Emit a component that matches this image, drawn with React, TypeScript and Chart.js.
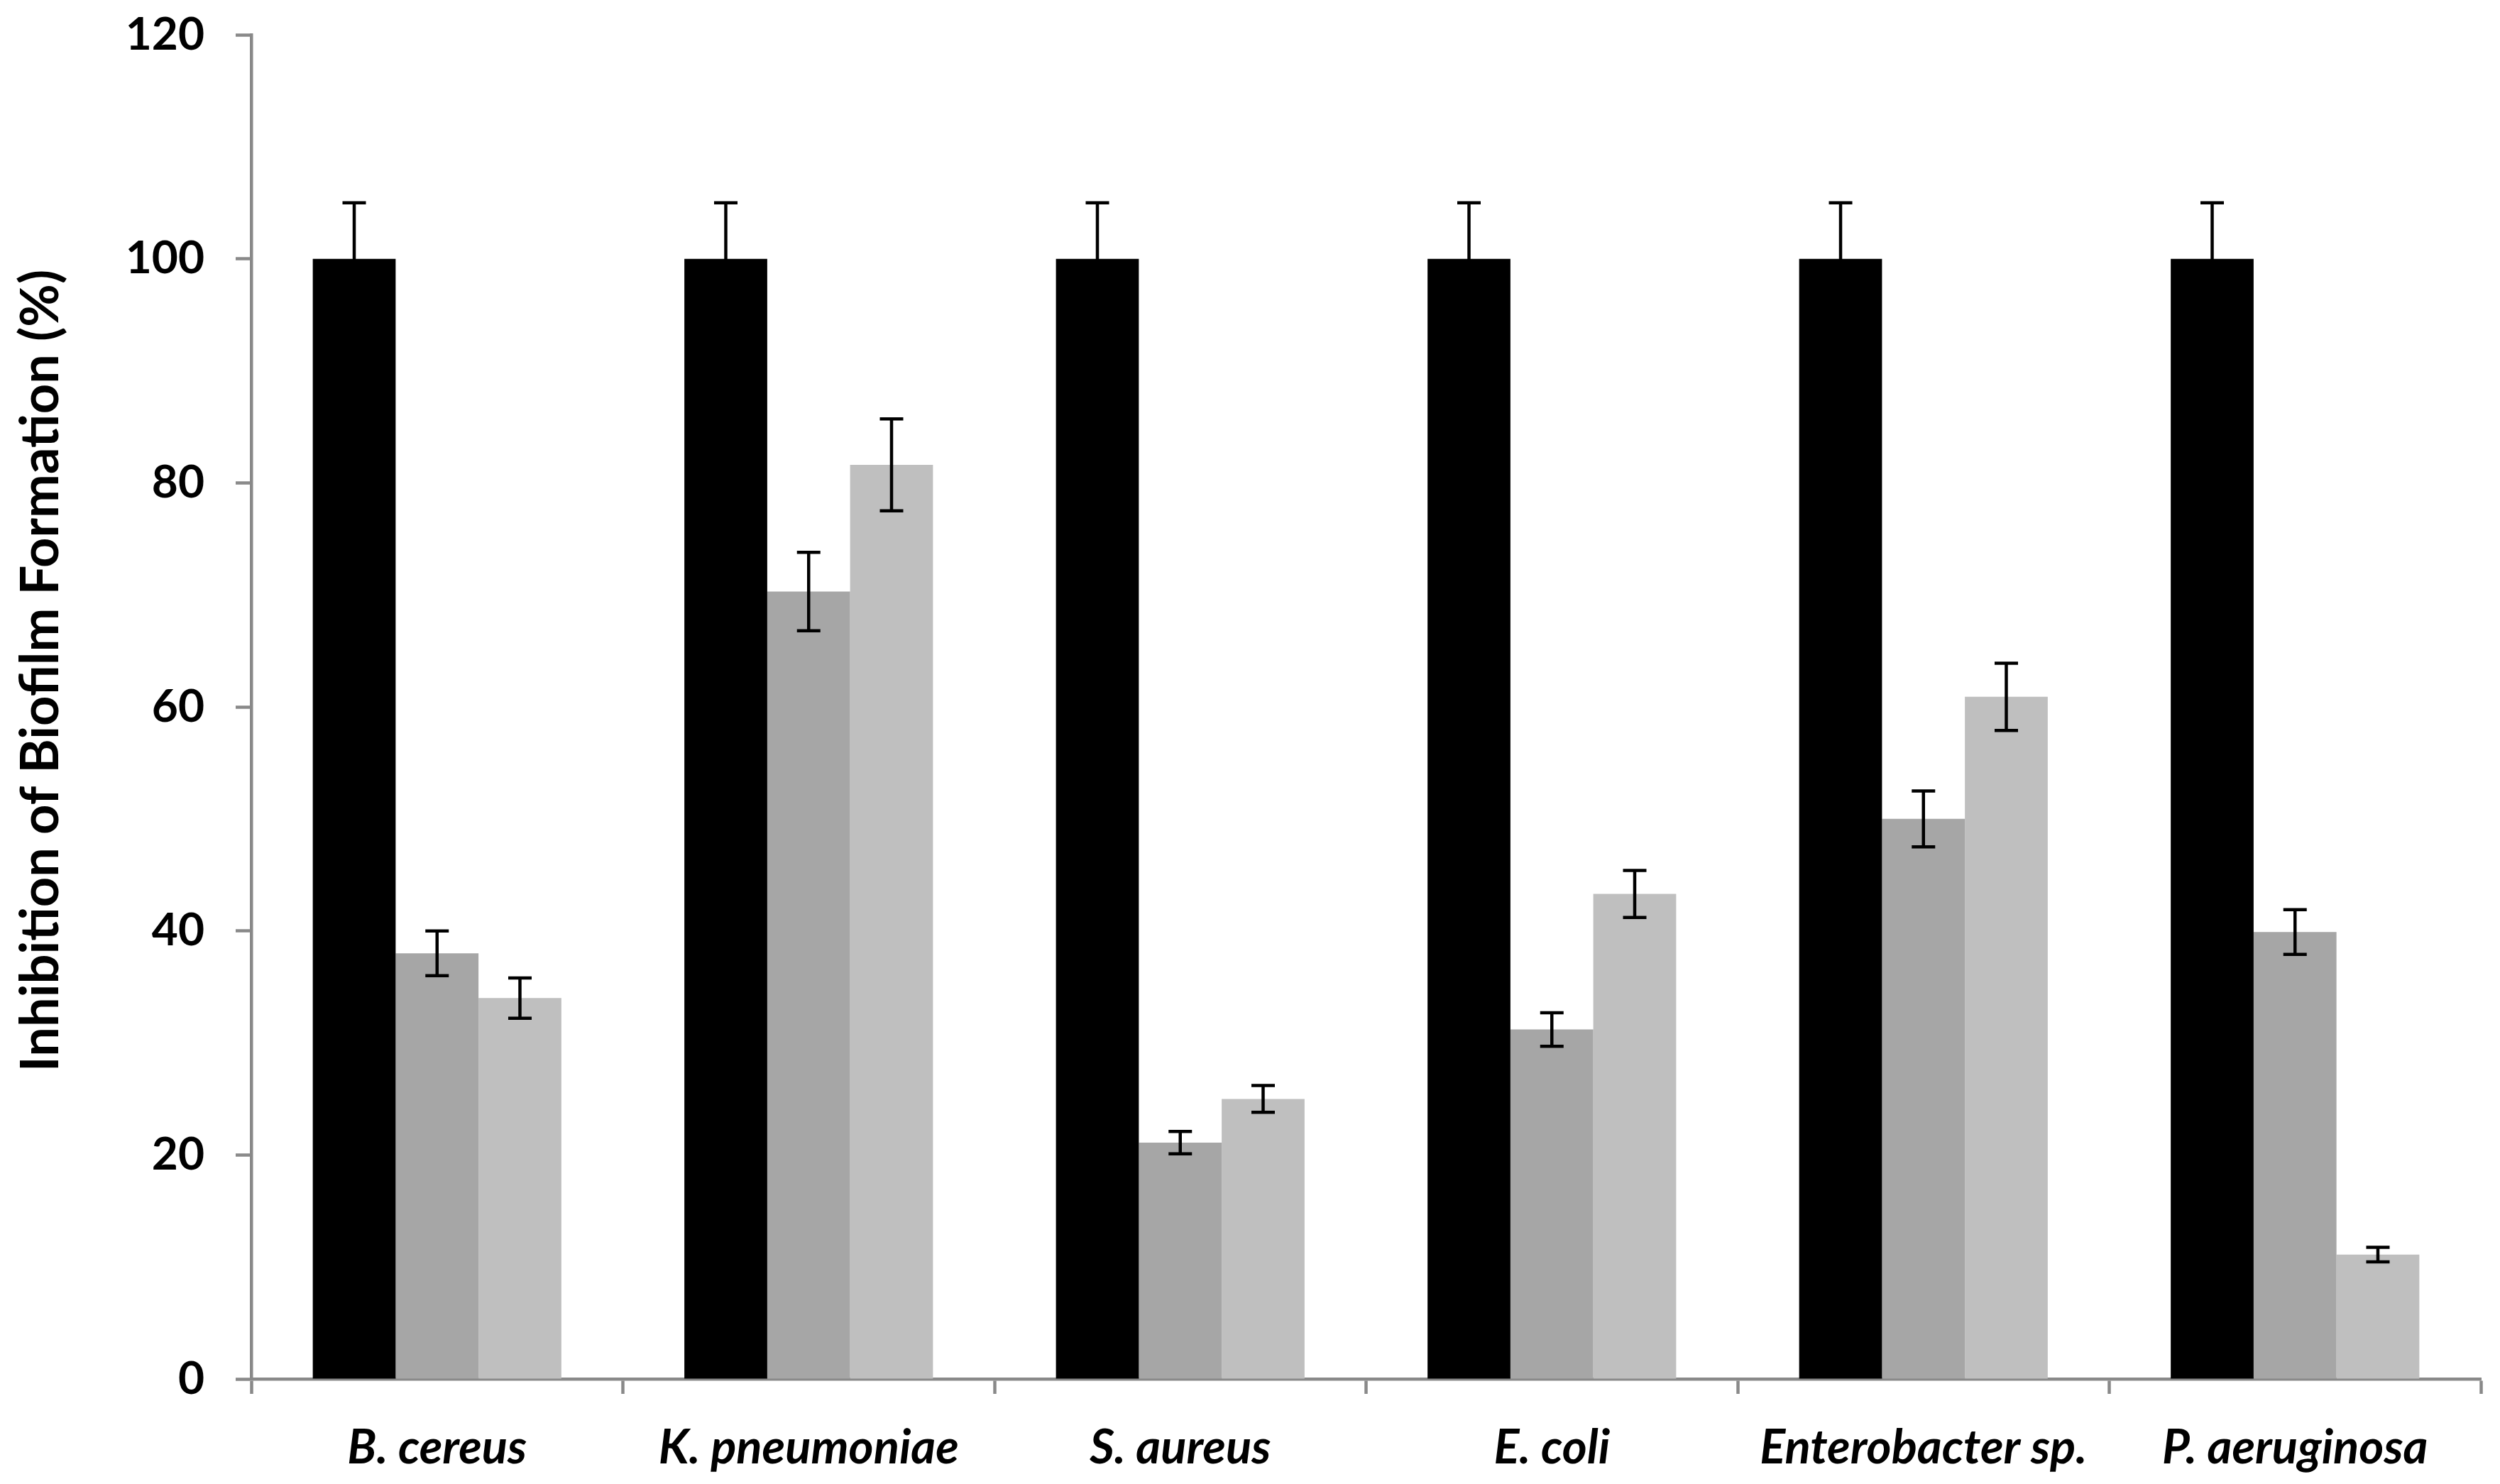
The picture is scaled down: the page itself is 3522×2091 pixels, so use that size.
import React, { useEffect, useRef } from "react";
import { Chart, registerables } from "chart.js";

Chart.register(...registerables);

const categories = ["B. cereus", "K. pneumoniae", "S. aureus", "E. coli", "Enterobacter sp.", "P. aeruginosa"];
const controlValues = [100, 100, 100, 100, 100, 100];
const controlErrors = [5, 5, 5, 5, 5, 5];
const treatmentAValues = [38.0, 70.3, 21.1, 31.2, 50.0, 39.9];
const treatmentAErrors = [2.0, 3.5, 1.0, 1.5, 2.5, 2.0];
const treatmentBValues = [34.0, 81.6, 25.0, 43.3, 60.9, 11.1];
const treatmentBErrors = [1.8, 4.1, 1.2, 2.1, 3.0, 0.65];
const yMin = 0;
const yMax = 120;
const yStep = 20;
const yTitle = "Inhibition of Biofilm Formation (%)";

const AXIS_COLOR = "#898989";
const FONT = "Lato";

const errorBarPlugin = {
  id: "errorBars",
  afterDatasetsDraw(chart: any) {
    const ctx = chart.ctx;
    const yScale = chart.scales.y;
    chart.data.datasets.forEach((ds: any, i: number) => {
      const meta = chart.getDatasetMeta(i);
      meta.data.forEach((bar: any, j: number) => {
        const v = ds.data[j];
        const e = ds.errors[j];
        const x = bar.x;
        const yTop = yScale.getPixelForValue(v + e);
        const yBot = yScale.getPixelForValue(v - e);
        const half = 16.5;
        ctx.save();
        ctx.strokeStyle = "#000000";
        ctx.lineWidth = 4.5;
        ctx.lineCap = "butt";
        ctx.beginPath();
        ctx.moveTo(x, yTop);
        ctx.lineTo(x, yBot);
        ctx.moveTo(x - half, yTop);
        ctx.lineTo(x + half, yTop);
        ctx.moveTo(x - half, yBot);
        ctx.lineTo(x + half, yBot);
        ctx.stroke();
        ctx.restore();
      });
    });
  },
};

const yTitlePlugin = {
  id: "yTitle",
  afterDraw(chart: any) {
    const ctx = chart.ctx;
    ctx.save();
    ctx.translate(58, 945);
    ctx.rotate(-Math.PI / 2);
    ctx.font = `bold 74px ${FONT}`;
    ctx.fillStyle = "#000000";
    ctx.textAlign = "center";
    ctx.textBaseline = "middle";
    ctx.fillText(yTitle, 0, 0);
    ctx.restore();
  },
};

export default function App() {
  const canvasRef = useRef<HTMLCanvasElement | null>(null);

  useEffect(() => {
    document.body.style.margin = "0";
    const canvas = canvasRef.current;
    if (!canvas) return;
    const chart = new Chart(canvas, {
      type: "bar",
      data: {
        labels: categories,
        datasets: [
          {
            label: "Control",
            data: controlValues,
            errors: controlErrors,
            backgroundColor: "#000000",
            borderWidth: 0,
          } as any,
          {
            label: "Treatment A",
            data: treatmentAValues,
            errors: treatmentAErrors,
            backgroundColor: "#a6a6a6",
            borderWidth: 0,
          } as any,
          {
            label: "Treatment B",
            data: treatmentBValues,
            errors: treatmentBErrors,
            backgroundColor: "#bfbfbf",
            borderWidth: 0,
          } as any,
        ],
      },
      options: {
        animation: false,
        responsive: false,
        devicePixelRatio: 1,
        layout: { padding: { top: 49, right: 27, bottom: 0, left: 0 } },
        datasets: {
          bar: { categoryPercentage: 0.669, barPercentage: 1.0 },
        },
        plugins: {
          legend: { display: false },
          title: { display: false },
          tooltip: { enabled: false },
        },
        scales: {
          x: {
            z: 1,
            offset: true,
            grid: {
              offset: true,
              drawOnChartArea: false,
              drawTicks: true,
              tickLength: 21,
              tickWidth: 4.5,
              tickColor: AXIS_COLOR,
            },
            border: { display: true, color: AXIS_COLOR, width: 4.5 },
            ticks: {
              color: "#000000",
              padding: 36,
              maxRotation: 0,
              autoSkip: false,
              font: { family: FONT, size: 67, weight: "bold", style: "italic" },
            },
            afterFit: (scale: any) => {
              scale.height = 148;
              scale.paddingLeft = 0;
              scale.paddingRight = 0;
            },
          },
          y: {
            z: 1,
            min: yMin,
            max: yMax,
            ticks: {
              stepSize: yStep,
              color: "#000000",
              padding: 44,
              font: { family: FONT, size: 64, weight: "bold" },
            },
            grid: {
              drawOnChartArea: false,
              drawTicks: true,
              tickLength: 22,
              tickWidth: 4.5,
              tickColor: AXIS_COLOR,
            },
            border: { display: true, color: AXIS_COLOR, width: 4.5 },
            afterFit: (scale: any) => {
              scale.width = 354;
              scale.paddingTop = 0;
              scale.paddingBottom = 0;
            },
          },
        },
      } as any,
      plugins: [errorBarPlugin, yTitlePlugin],
    });
    return () => chart.destroy();
  }, []);

  return (
    <div style={{ position: "absolute", left: 0, top: 0, width: 3522, height: 2091, background: "#ffffff" }}>
      <canvas ref={canvasRef} width={3522} height={2091} style={{ width: 3522, height: 2091, display: "block" }} />
    </div>
  );
}
